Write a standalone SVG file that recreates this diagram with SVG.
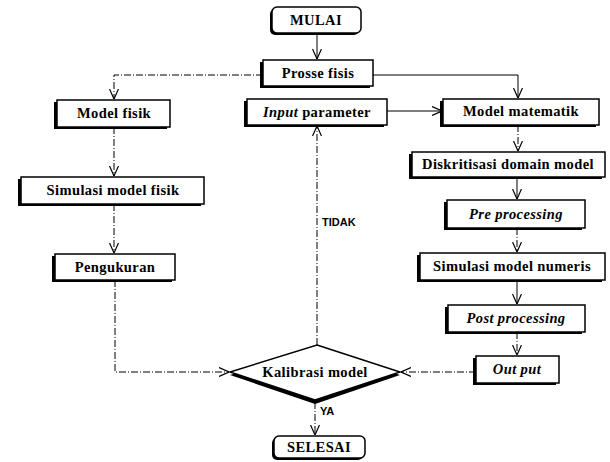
<svg xmlns="http://www.w3.org/2000/svg" width="610" height="462" viewBox="0 0 610 462">
<defs>
<style>
.box{fill:#fff;stroke:#000;stroke-width:1.5}
.sh{fill:#000}
.t{font-family:"Liberation Serif","Times New Roman",serif;font-weight:bold;font-size:14.5px;letter-spacing:0.4px;text-anchor:middle;fill:#000}
.i{font-style:italic}
.lbl{font-family:"Liberation Sans",Arial,sans-serif;font-weight:bold;font-size:11px;fill:#000}
.c{fill:none;stroke:#000;stroke-width:1;marker-end:url(#ah)}
.d{stroke-dasharray:7,2,1,2}
</style>
<marker id="ah" viewBox="0 0 10 10" refX="10" refY="5" markerWidth="10" markerHeight="10" markerUnits="userSpaceOnUse" orient="auto">
<path d="M0,0.5 L10,5 L0,9.5" fill="none" stroke="#000" stroke-width="1.2"/>
</marker>
</defs>
<rect width="610" height="462" fill="#fff"/>
<g id="connectors">
<path class="c" d="M317,33 V59"/>
<path class="c d" d="M263,75 H114 V99"/>
<path class="c" d="M373,75 H518 V98"/>
<path class="c" d="M387,111 H442"/>
<path class="c d" d="M518,125 V151"/>
<path class="c" d="M517,177 V199"/>
<path class="c d" d="M517,228 V252"/>
<path class="c" d="M517,280 V304"/>
<path class="c d" d="M517,332 V355"/>
<path class="c d" d="M476,372 H401"/>
<path class="c d" d="M114,127 V176"/>
<path class="c d" d="M114,204 V253"/>
<path class="c d" d="M115,280 V372 H229"/>
<path class="c d" d="M317,345 V126"/>
<path class="c d" d="M315,402 V435"/>
<text class="lbl" x="322" y="226">TIDAK</text>
<text class="lbl" x="320" y="415">YA</text>
</g>
<g id="mulai">
<rect class="sh" x="270" y="9" width="89" height="26" rx="5"/>
<rect class="box" x="272" y="7" width="89" height="26" rx="5" stroke-width="2"/>
<text class="t" x="316" y="25">MULAI</text>
</g>
<g id="prosse-fisis">
<rect class="sh" x="260" y="62" width="110" height="26"/>
<rect class="box" x="263" y="60" width="110" height="26"/>
<text class="t" x="318" y="78">Prosse fisis</text>
</g>
<g id="model-fisik">
<rect class="sh" x="54" y="102" width="113" height="27"/>
<rect class="box" x="57" y="100" width="113" height="27"/>
<text class="t" x="114" y="118">Model fisik</text>
</g>
<g id="input-parameter">
<rect class="sh" x="244" y="101" width="140" height="26"/>
<rect class="box" x="247" y="99" width="140" height="26"/>
<text class="t" x="317" y="117"><tspan class="i">Input</tspan> parameter</text>
</g>
<g id="model-matematik">
<rect class="sh" x="440" y="101" width="156" height="26"/>
<rect class="box" x="443" y="99" width="156" height="26"/>
<text class="t" x="521" y="116">Model matematik</text>
</g>
<g id="simulasi-model-fisik">
<rect class="sh" x="18" y="179" width="183" height="27"/>
<rect class="box" x="21" y="177" width="183" height="27"/>
<text class="t" x="113" y="195">Simulasi model fisik</text>
</g>
<g id="diskritisasi">
<rect class="sh" x="409" y="154" width="193" height="25"/>
<rect class="box" x="412" y="152" width="193" height="25"/>
<text class="t" x="508" y="169">Diskritisasi domain model</text>
</g>
<g id="pre-processing">
<rect class="sh" x="444" y="202" width="138" height="28"/>
<rect class="box" x="447" y="200" width="138" height="28"/>
<text class="t i" x="516" y="219">Pre processing</text>
</g>
<g id="pengukuran">
<rect class="sh" x="52" y="256" width="120" height="26"/>
<rect class="box" x="55" y="254" width="120" height="26"/>
<text class="t" x="115" y="272">Pengukuran</text>
</g>
<g id="simulasi-model-numeris">
<rect class="sh" x="417" y="255" width="185" height="27"/>
<rect class="box" x="420" y="253" width="185" height="27"/>
<text class="t" x="512" y="271">Simulasi model numeris</text>
</g>
<g id="post-processing">
<rect class="sh" x="445" y="307" width="137" height="27"/>
<rect class="box" x="448" y="305" width="137" height="27"/>
<text class="t i" x="516" y="323">Post processing</text>
</g>
<g id="out-put">
<rect class="sh" x="473" y="358" width="83" height="27"/>
<rect class="box" x="476" y="356" width="83" height="27"/>
<text class="t i" x="517" y="374">Out put</text>
</g>
<g id="kalibrasi-model">
<polygon class="sh" points="317,349 400,375 315,404 230,375"/>
<polygon class="box" points="317,345 400,372 315,400 230,372"/>
<text class="t" x="315" y="377">Kalibrasi model</text>
</g>
<g id="selesai">
<rect class="sh" x="272" y="438" width="91" height="22" rx="5"/>
<rect class="box" x="274" y="436" width="91" height="22" rx="5" stroke-width="2"/>
<text class="t" x="319" y="452">SELESAI</text>
</g>
</svg>
